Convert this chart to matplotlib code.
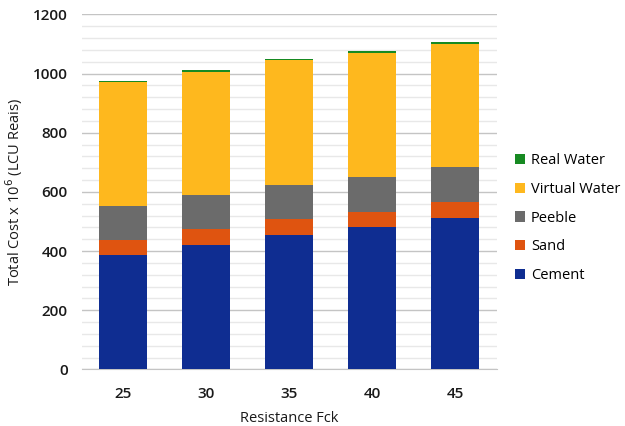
import matplotlib.pyplot as plt
import numpy as np
from matplotlib.ticker import MultipleLocator

plt.rcParams['font.family'] = ['Open Sans', 'DejaVu Sans']

resistance = ['25', '30', '35', '40', '45']
cement = [387, 419, 455, 483, 511]
sand = [52, 54, 52, 50, 54]
peeble = [115, 117, 118, 118, 120]
virtual_water = [416, 416, 420, 419, 416]
real_water = [6, 6, 5, 6, 5]

series = [('Cement', cement, '#0F2D91'),
          ('Sand', sand, '#DF5410'),
          ('Peeble', peeble, '#6B6B6B'),
          ('Virtual Water', virtual_water, '#FEB81E'),
          ('Real Water', real_water, '#178A22')]

fig = plt.figure(figsize=(6.25, 4.26), dpi=100)
ax = fig.add_axes([0.131, 0.133, 0.664, 0.833])

x = np.arange(len(resistance))
bottom = np.zeros(len(resistance))
handles = []
for name, vals, color in series:
    b = ax.bar(x, vals, 0.58, bottom=bottom, color=color, label=name,
               linewidth=0, zorder=3)
    handles.append(b)
    bottom += np.array(vals)

ax.set_xlim(-0.5, 4.5)
ax.set_ylim(0, 1200)
ax.yaxis.set_major_locator(MultipleLocator(200))
ax.yaxis.set_minor_locator(MultipleLocator(40))
ax.grid(which='major', axis='y', color='#C4C4C4', linewidth=1.0, zorder=0)
ax.grid(which='minor', axis='y', color='#E8E8E8', linewidth=1.0, zorder=0)
ax.set_xticks(x)
ax.set_xticklabels(resistance)
ax.tick_params(axis='x', which='both', length=0, labelsize=11, pad=13)
ax.tick_params(axis='y', which='both', length=0, labelsize=11, pad=10)
for lbl in ax.get_xticklabels() + ax.get_yticklabels():
    lbl.set_fontweight('semibold')
    lbl.set_color('#1A1A1A')

for s in ['top', 'right', 'left']:
    ax.spines[s].set_visible(False)
ax.spines['bottom'].set_color('#C4C4C4')

ax.set_xlabel('Resistance Fck', fontsize=10.5, color='#1A1A1A', labelpad=7)
ax.set_ylabel('Total Cost x 10$^6$ (LCU Reais)', fontsize=10.5, color='#1A1A1A', labelpad=6)

fig.legend(handles[::-1], [s[0] for s in series][::-1], loc='center left',
           bbox_to_anchor=(0.824, 0.488), frameon=False, fontsize=10.5,
           handlelength=0.7, handleheight=0.7, handletextpad=0.4, labelspacing=0.95,
           borderaxespad=0, borderpad=0)

fig.savefig('out.png', dpi=100)
